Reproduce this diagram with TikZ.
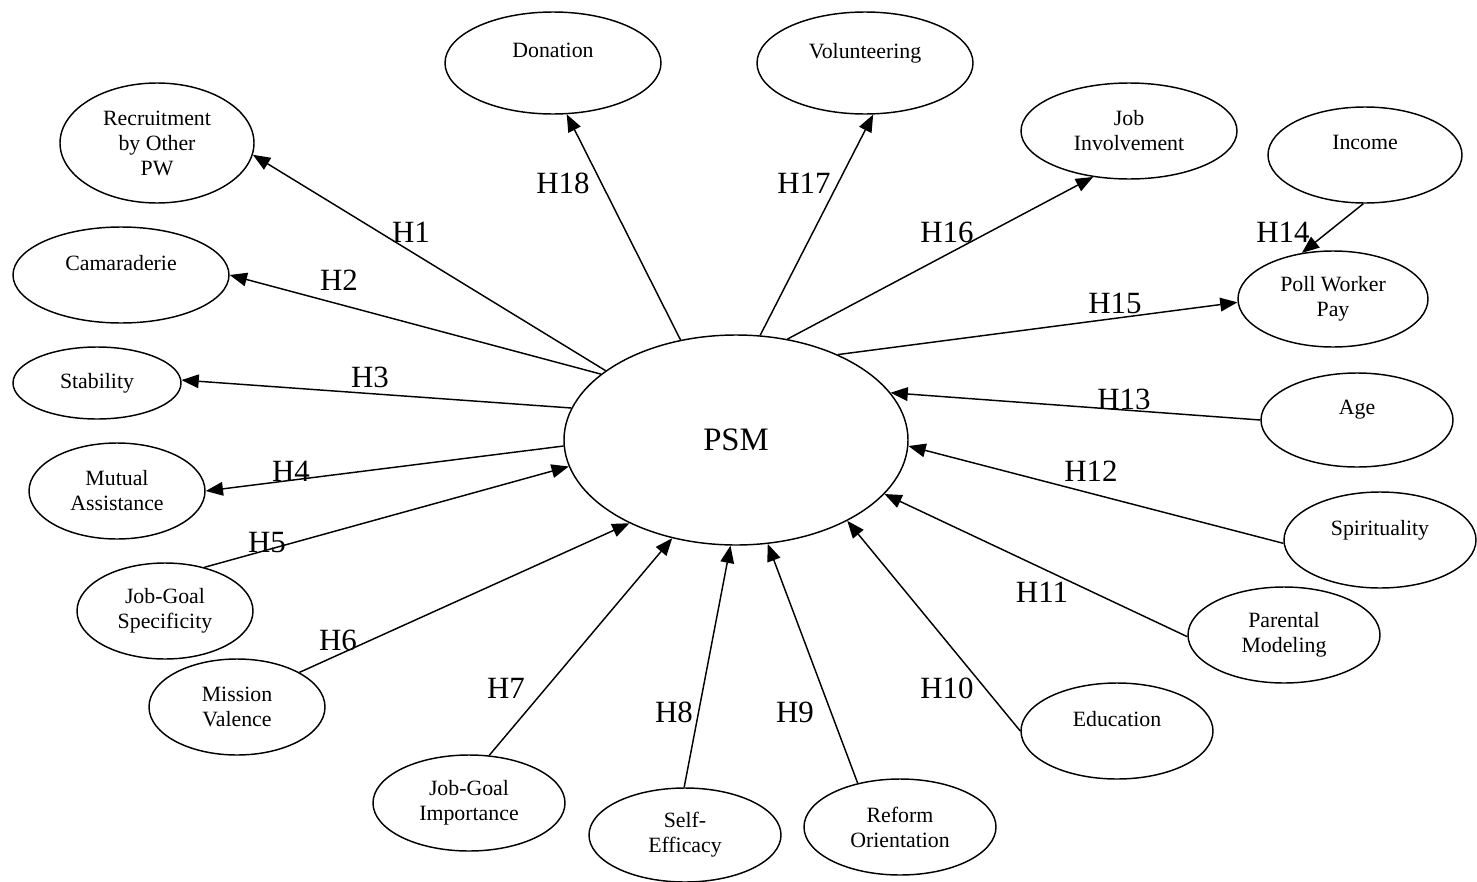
\documentclass[tikz,border=0pt]{standalone}
\usepackage{fontspec}
\setmainfont{Liberation Serif}
\usetikzlibrary{shapes.geometric,arrows.meta}

\begin{document}
\begin{tikzpicture}
	[x=0.55pt,y=-0.55pt,
	 oval/.style 2 args={draw,ellipse,line width=0.8pt,inner sep=0pt,minimum width=#1*0.55pt,minimum height=#2*0.55pt,align=center,font=\fontsize{12}{13.75}\selectfont},
	 hyp/.style={font=\fontsize{17}{20}\selectfont,inner sep=0pt},
	 link/.style={line width=0.8pt,-{Triangle[length=9.5pt,width=7.5pt]}}]
	\useasboundingbox (0,0) rectangle (1477,882);

	% central construct
	\node[oval={344}{210},font=\fontsize{18}{20}\selectfont] (psm) at (736,440) {PSM};

	% surrounding constructs
	\node[oval={216}{102}] (don) at (553,63) {Donation\\~};
	\node[oval={216}{102}] (vol) at (865,63) {Volunteering\\~};
	\node[oval={194}{120}] (rec) at (157,143) {Recruitment\\by Other\\PW};
	\node[oval={216}{96}] (cam) at (121,275) {Camaraderie\\~};
	\node[oval={168}{72}] (stab) at (97,383) {Stability};
	\node[oval={176}{96}] (ma) at (117,491) {Mutual\\Assistance};
	\node[oval={176}{96}] (jgs) at (165,611) {Job-Goal\\Specificity};
	\node[oval={176}{96}] (mv) at (237,707) {Mission\\Valence};
	\node[oval={192}{96}] (jgi) at (469,803) {Job-Goal\\Importance};
	\node[oval={192}{94}] (se) at (685,835) {Self-\\Efficacy};
	\node[oval={192}{96}] (ro) at (900,827) {Reform\\Orientation};
	\node[oval={192}{96}] (edu) at (1117,731) {Education\\~};
	\node[oval={192}{96}] (pm) at (1284,635) {Parental\\Modeling};
	\node[oval={192}{96}] (spi) at (1380,540) {Spirituality\\~};
	\node[oval={192}{94}] (age) at (1357,420) {Age\\~};
	\node[oval={190}{96}] (pay) at (1333,299) {Poll Worker\\Pay};
	\node[oval={194}{96}] (inc) at (1365,155) {Income\\~};
	\node[oval={216}{96}] (ji) at (1129,131) {Job\\Involvement};

	% hypotheses
	\draw[link] (psm.152) -- (rec.-7);
	\draw[link] (psm.154) -- (cam.0);
	\draw[link] (psm.169) -- (stab.2);
	\draw[link] (psm.182) -- (ma.0);
	\draw[link] (jgs.48) -- (psm.-171);
	\draw[link] (mv.29) -- (psm.-142);
	\draw[link] (jgi.67) -- (psm.-123);
	\draw[link] (se.91) -- (psm.-93);
	\draw[link] (ro.134) -- (psm.-73);
	\draw[link] (edu.180) -- (psm.-36);
	\draw[link] (pm.181) -- (psm.-20);
	\draw[link] (spi.182) -- (psm.-2);
	\draw[link] (age.180) -- (psm.17);
	\draw[link] (inc.-92) -- (pay.124);
	\draw[link] (psm.40) -- (pay.182);
	\draw[link] (psm.63) -- (ji.-128);
	\draw[link] (psm.77) -- (vol.-81);
	\draw[link] (psm.119) -- (don.-75);

	\node[hyp] (h1) at (411,232) {H1};
	\node[hyp] (h2) at (339,280) {H2};
	\node[hyp] (h3) at (370,377) {H3};
	\node[hyp] (h4) at (291,471) {H4};
	\node[hyp] (h5) at (267,543) {H5};
	\node[hyp] (h6) at (338,640) {H6};
	\node[hyp] (h7) at (506,688) {H7};
	\node[hyp] (h8) at (674,712) {H8};
	\node[hyp] (h9) at (795,712) {H9};
	\node[hyp] (h10) at (947,688) {H10};
	\node[hyp] (h11) at (1042,592) {H11};
	\node[hyp] (h12) at (1091,471) {H12};
	\node[hyp] (h13) at (1124,399) {H13};
	\node[hyp] (h14) at (1283,232) {H14};
	\node[hyp] (h15) at (1115,303) {H15};
	\node[hyp] (h16) at (947,232) {H16};
	\node[hyp] (h17) at (804,183) {H17};
	\node[hyp] (h18) at (563,183) {H18};
\end{tikzpicture}
\end{document}
